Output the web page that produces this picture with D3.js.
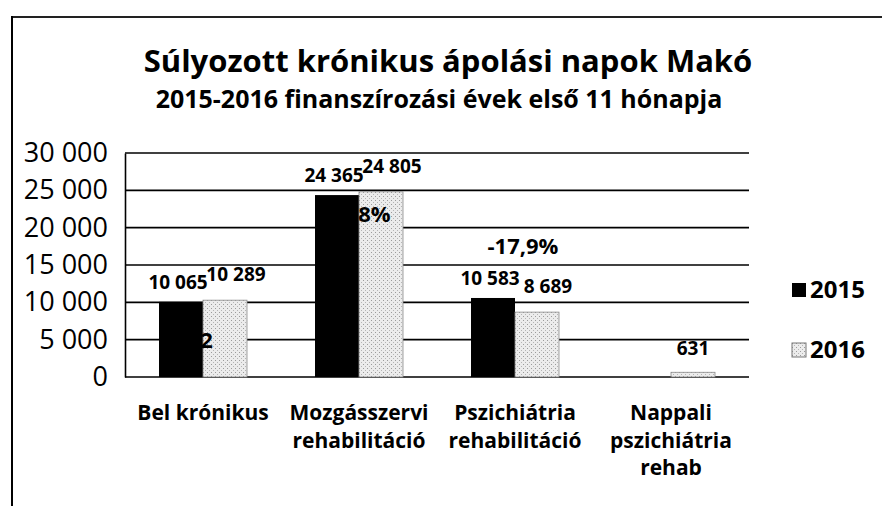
<!DOCTYPE html>
<html>
<head>
<meta charset="utf-8">
<script src="https://cdn.jsdelivr.net/npm/d3@7"></script>
<style>
  body { margin: 0; background: #fff; }
  text { font-family: "Open Sans", "Noto Sans", sans-serif; fill: #000; }
</style>
</head>
<body>
<svg width="882" height="506"></svg>
<script>
var categories = [["Bel krónikus"], ["Mozgásszervi", "rehabilitáció"], ["Pszichiátria", "rehabilitáció"], ["Nappali", "pszichiátria", "rehab"]]
var series = ["2015", "2016"]
var values2015 = [10065, 24365, 10583, null]
var values2016 = [10289, 24805, 8689, 631]
var changes = ["2,2", "1,8%", "-17,9%", null]
var yTicks = [0, 5000, 10000, 15000, 20000, 25000, 30000]

var svg = d3.select('svg')
var fmt = d3.formatLocale({decimal: ",", thousands: " ", grouping: [3]}).format(",d")

// minta a 2016-os oszlopokhoz (szürke pöttyös)
var defs = svg.append('defs')
var pat = defs.append('pattern').attr('id', 'dots')
    .attr('width', 4).attr('height', 4).attr('patternUnits', 'userSpaceOnUse')
pat.append('rect').attr('width', 4).attr('height', 4).attr('fill', '#ececec')
pat.append('rect').attr('x', 0).attr('y', 0).attr('width', 1).attr('height', 1).attr('fill', '#9a9a9a')
pat.append('rect').attr('x', 2).attr('y', 2).attr('width', 1).attr('height', 1).attr('fill', '#b5b5b5')

// keret
svg.append('line').attr('x1', 12).attr('x2', 882).attr('y1', 17).attr('y2', 17)
    .attr('stroke', '#222').attr('stroke-width', 2)
svg.append('line').attr('x1', 12).attr('x2', 12).attr('y1', 16).attr('y2', 506)
    .attr('stroke', '#000').attr('stroke-width', 2)

// cím
svg.append('text').attr('x', 448).attr('y', 72).attr('text-anchor', 'middle')
    .style('font-size', '31px').style('font-weight', 700)
    .text('Súlyozott krónikus ápolási napok Makó')
svg.append('text').attr('x', 439).attr('y', 108).attr('text-anchor', 'middle')
    .style('font-size', '25px').style('font-weight', 700)
    .text('2015-2016 finanszírozási évek első 11 hónapja')

var y = d3.scaleLinear().domain([0, 30000]).range([377, 153])
var x0 = d3.scaleBand().domain(d3.range(categories.length)).range([125, 749])
    .paddingInner(0.436).paddingOuter(0.218)
var x1 = d3.scaleBand().domain(series).range([0, x0.bandwidth()])

// rácsvonalak
svg.append('g').selectAll('line').data(yTicks).enter().append('line')
    .attr('x1', 125).attr('x2', 749)
    .attr('y1', function(d){ return y(d) }).attr('y2', function(d){ return y(d) })
    .attr('stroke', '#000').attr('stroke-width', 1.6)

var yAxis = svg.append('g').attr('transform', 'translate(125,0)')
    .call(d3.axisLeft(y).tickValues(yTicks).tickFormat(fmt).tickSize(0).tickPadding(17))
yAxis.select('.domain').attr('stroke', '#000').attr('stroke-width', 1.6)
yAxis.selectAll('text').style('font-size', '27px').style('font-family', '"Open Sans", sans-serif')

// oszlopok
var rows = values2015.map(function(v, i){
    return [{s: "2015", i: i, v: v}, {s: "2016", i: i, v: values2016[i]}]
})
var groups = svg.append('g').selectAll('g').data(rows).enter().append('g')
    .attr('transform', function(d, i){ return 'translate(' + x0(i) + ',0)' })

function present(d){ return d.filter(function(e){ return e.v != null }) }

groups.selectAll('rect').data(present)
    .enter().append('rect')
    .attr('x', function(d){ return x1(d.s) })
    .attr('width', x1.bandwidth())
    .attr('y', function(d){ return y(d.v) })
    .attr('height', function(d){ return y(0) - y(d.v) })
    .attr('fill', function(d){ return d.s == "2015" ? '#000' : 'url(#dots)' })
    .attr('stroke', function(d){ return d.s == "2015" ? 'none' : '#888' })
    .attr('stroke-width', 0.8)

// értékcímkék: ha két címke van egymás mellett, széthúzzuk őket
groups.selectAll('text.val').data(present)
    .enter().append('text').attr('class', 'val')
    .attr('x', function(d){
        var pair = values2015[d.i] != null && values2016[d.i] != null
        var dx = pair ? (d.s == "2016" ? 11 : -3) : 0
        return x1(d.s) + x1.bandwidth() / 2 + dx })
    .attr('y', function(d){
        var pair = values2015[d.i] != null && values2016[d.i] != null
        return y(d.v) - (pair ? (d.s == "2016" ? 19 : 13) : 17) })
    .attr('text-anchor', 'middle')
    .style('font-size', '19px').style('font-weight', 700)
    .text(function(d){ return fmt(d.v) })

// változás százalékban
var chDx = [-6, 6, 8], chDy = [46, 27, -44]
svg.append('g').selectAll('text').data(changes).enter().append('text')
    .filter(function(d){ return d != null })
    .attr('x', function(d, i){ return x0(i) + x0.bandwidth() / 2 + chDx[i] })
    .attr('y', function(d, i){ return y(values2015[i]) + chDy[i] })
    .attr('text-anchor', 'middle')
    .style('font-size', '22px').style('font-weight', 700)
    .text(function(d){ return d })

// kategória feliratok
var xl = svg.append('g').selectAll('text').data(categories).enter().append('text')
    .attr('x', function(d, i){ return x0(i) + x0.bandwidth() / 2 })
    .attr('y', 420).attr('text-anchor', 'middle')
    .style('font-size', '21px').style('font-weight', 700)
xl.selectAll('tspan').data(function(d){ return d }).enter().append('tspan')
    .attr('x', function(){ return d3.select(this.parentNode).attr('x') })
    .attr('dy', function(d, j){ return j == 0 ? 0 : 27.5 })
    .text(function(d){ return d })

// jelmagyarázat
var leg = svg.append('g').selectAll('g').data(series).enter().append('g')
    .attr('transform', function(d, i){ return 'translate(792,' + (283 + i * 60) + ')' })
leg.append('rect').attr('width', 14).attr('height', 14)
    .attr('fill', function(d){ return d == "2015" ? '#000' : 'url(#dots)' })
    .attr('stroke', function(d){ return d == "2015" ? 'none' : '#777' })
leg.append('text').attr('x', 18).attr('y', 15)
    .style('font-size', '24px').style('font-weight', 700)
    .text(function(d){ return d })
</script>
</body>
</html>
